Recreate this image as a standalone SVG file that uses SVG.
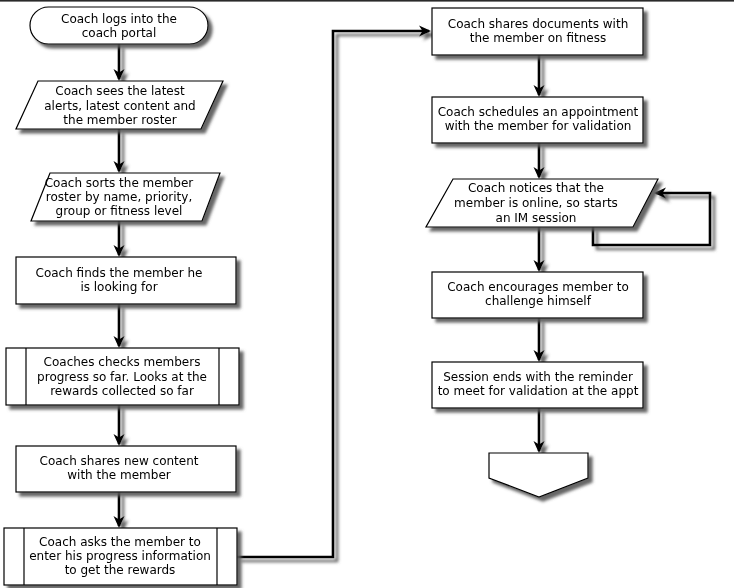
<svg xmlns="http://www.w3.org/2000/svg" width="734" height="588" viewBox="0 0 734 588">
<style>
.s{fill:#fff;stroke:#000;stroke-width:1.2}
.t{font-family:"DejaVu Sans",Verdana,sans-serif;font-size:12px;text-anchor:middle;fill:#000}
.c{fill:none;stroke:#000;stroke-width:2.6;stroke-linejoin:miter}
.a{marker-end:url(#ah)}
</style>
<defs>
<filter id="sh" x="-20%" y="-20%" width="150%" height="160%">
<feGaussianBlur in="SourceAlpha" stdDeviation="1.8" result="b"/>
<feOffset in="b" dx="4" dy="4" result="o"/>
<feFlood flood-color="#555555" flood-opacity="0.9"/>
<feComposite in2="o" operator="in" result="s"/>
<feMerge><feMergeNode in="s"/><feMergeNode in="SourceGraphic"/></feMerge>
</filter>
<marker id="ah" markerUnits="userSpaceOnUse" markerWidth="14" markerHeight="13" refX="10" refY="5.5" orient="auto" overflow="visible">
<path d="M0,0 L12,5.5 L0,11 L3.5,5.5 Z" fill="#000"/>
</marker>
</defs>
<rect x="0" y="0" width="734" height="1.6" fill="#2a2a2a"/>
<g id="connectors" filter="url(#sh)">
<path class="c a" d="M119,44 V79"/>
<path class="c a" d="M119,129 V171"/>
<path class="c a" d="M119,221 V255"/>
<path class="c a" d="M119,304 V346"/>
<path class="c a" d="M119,405 V444"/>
<path class="c a" d="M119,492 V526"/>
<path class="c a" d="M237,557 H333 V31 H429"/>
<path class="c a" d="M539,55 V95"/>
<path class="c a" d="M539,143 V177"/>
<path class="c a" d="M593,227 V245 H710 V193 H656"/>
<path class="c a" d="M539,227 V270"/>
<path class="c a" d="M539,318 V360"/>
<path class="c a" d="M539,408 V451"/>
</g>
<g id="n1" filter="url(#sh)">
<rect class="s" x="30" y="7" width="178" height="37" rx="18.5" ry="18.5"/>
<text class="t" x="119" y="23">Coach logs into the</text>
<text class="t" x="119" y="37">coach portal</text>
</g>
<g id="n2" filter="url(#sh)">
<polygon class="s" points="38,81 223,81 201,129 16,129"/>
<text class="t" x="120" y="95">Coach sees the latest</text>
<text class="t" x="120" y="109.5">alerts, latest content and</text>
<text class="t" x="120" y="124">the member roster</text>
</g>
<g id="n3" filter="url(#sh)">
<polygon class="s" points="50,173 220,173 202,221 31,221"/>
<text class="t" x="119" y="187">Coach sorts the member</text>
<text class="t" x="119" y="201">roster by name, priority,</text>
<text class="t" x="119" y="215">group or fitness level</text>
</g>
<g id="n4" filter="url(#sh)">
<rect class="s" x="16" y="257" width="220" height="47"/>
<text class="t" x="119" y="277">Coach finds the member he</text>
<text class="t" x="119" y="291">is looking for</text>
</g>
<g id="n5" filter="url(#sh)">
<rect class="s" x="6" y="348" width="233" height="57"/>
<line class="s" x1="26" y1="348" x2="26" y2="405"/>
<line class="s" x1="219" y1="348" x2="219" y2="405"/>
<text class="t" x="122" y="366">Coaches checks members</text>
<text class="t" x="122" y="381">progress so far. Looks at the</text>
<text class="t" x="122" y="395">rewards collected so far</text>
</g>
<g id="n6" filter="url(#sh)">
<rect class="s" x="16" y="446" width="220" height="46"/>
<text class="t" x="119" y="465">Coach shares new content</text>
<text class="t" x="119" y="479">with the member</text>
</g>
<g id="n7" filter="url(#sh)">
<rect class="s" x="4" y="528" width="233" height="57"/>
<line class="s" x1="24" y1="528" x2="24" y2="585"/>
<line class="s" x1="217" y1="528" x2="217" y2="585"/>
<text class="t" x="120" y="546">Coach asks the member to</text>
<text class="t" x="120" y="560">enter his progress information</text>
<text class="t" x="120" y="574">to get the rewards</text>
</g>
<g id="n8" filter="url(#sh)">
<rect class="s" x="432" y="8" width="211" height="47"/>
<text class="t" x="538" y="28">Coach shares documents with</text>
<text class="t" x="538" y="42">the member on fitness</text>
</g>
<g id="n9" filter="url(#sh)">
<rect class="s" x="432" y="97" width="211" height="46"/>
<text class="t" x="538" y="116">Coach schedules an appointment</text>
<text class="t" x="538" y="130">with the member for validation</text>
</g>
<g id="n10" filter="url(#sh)">
<polygon class="s" points="453,179 658,179 633,227 426,227"/>
<text class="t" x="536" y="192">Coach notices that the</text>
<text class="t" x="536" y="207">member is online, so starts</text>
<text class="t" x="536" y="222">an IM session</text>
</g>
<g id="n11" filter="url(#sh)">
<rect class="s" x="432" y="272" width="211" height="46"/>
<text class="t" x="538" y="291">Coach encourages member to</text>
<text class="t" x="538" y="305">challenge himself</text>
</g>
<g id="n12" filter="url(#sh)">
<rect class="s" x="432" y="362" width="211" height="46"/>
<text class="t" x="538" y="381">Session ends with the reminder</text>
<text class="t" x="538" y="395">to meet for validation at the appt</text>
</g>
<g id="n13" filter="url(#sh)">
<polygon class="s" points="489,453 588,453 588,478 539,497 489,478"/>
</g>
</svg>
